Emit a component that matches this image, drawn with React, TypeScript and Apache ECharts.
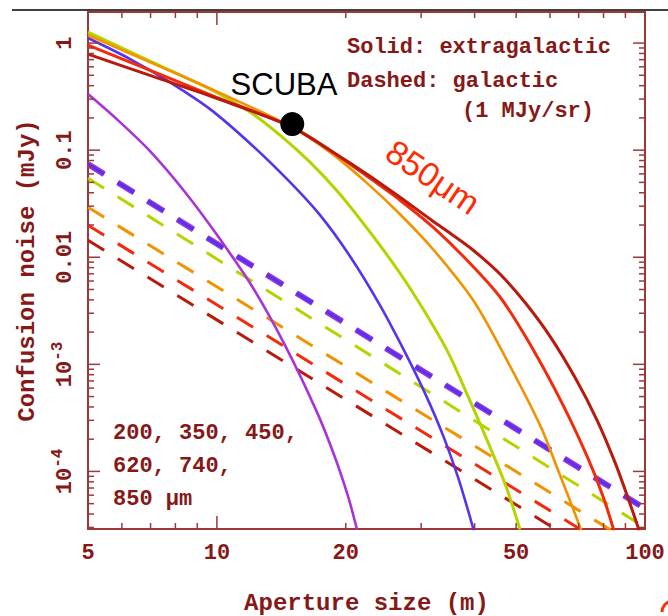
import React, { useEffect, useRef } from 'react';
import * as echarts from 'echarts';

// ---------- axis ticks & labels ----------
const X_LABEL_VALUES = [5, 10, 20, 50, 100];
const Y_LABEL_VALUES = [1e-4, 1e-3, 0.01, 0.1, 1];
const Y_LABEL_TEXTS = ['10^-4', '10^-3', '0.01', '0.1', '1'];

const X_MAJOR_TICKS = [10, 100];
const X_MINOR_TICKS = [6, 7, 8, 9, 20, 30, 40, 50, 60, 70, 80, 90];
const Y_MAJOR_TICKS = [1e-4, 1e-3, 1e-2, 1e-1, 1];
const Y_MINOR_TICKS = [
  3e-5, 4e-5, 5e-5, 6e-5, 7e-5, 8e-5, 9e-5,
  2e-4, 3e-4, 4e-4, 5e-4, 6e-4, 7e-4, 8e-4, 9e-4,
  2e-3, 3e-3, 4e-3, 5e-3, 6e-3, 7e-3, 8e-3, 9e-3,
  0.02, 0.03, 0.04, 0.05, 0.06, 0.07, 0.08, 0.09,
  0.2, 0.3, 0.4, 0.5, 0.6, 0.7, 0.8, 0.9,
];

// ---------- bands ----------
const BANDS = ['200', '350', '450', '620', '740', '850'];
const BAND_COLORS = ['#a934d6', '#5634ee', '#b6d300', '#f39200', '#f42a0c', '#b81a0c'];

// Solid: extragalactic confusion noise [aperture (m), noise (mJy)]
const EXTRAGAL_200 = [[5, 0.334], [5.87, 0.1908], [6.98, 0.0979], [8.43, 0.0405], [10.06, 0.0157], [12.08, 0.005358], [14.42, 0.00151], [17.14, 3.56e-4], [18.88, 1.351e-4], [20.25, 5.84e-5], [21.25, 2.87e-5]];
const EXTRAGAL_350 = [[5, 1.114], [6.27, 0.709], [7.69, 0.4414], [9.64, 0.2416], [12.08, 0.1113], [14.82, 0.0502], [17.42, 0.0247], [20.46, 0.01022], [24.05, 0.003558], [27.51, 0.001295], [30.64, 5.36e-4], [33.75, 2.17e-4], [36.59, 8.79e-5], [38.61, 4.32e-5], [39.87, 2.75e-5]];
const EXTRAGAL_450 = [[5, 1.267], [7.06, 0.6645], [9.95, 0.3483], [11.95, 0.2265], [14.04, 0.1381], [16.5, 0.0772], [19.39, 0.0388], [22.79, 0.01713], [26.78, 0.00709], [30.64, 0.003062], [34.67, 0.001295], [38.61, 5.02e-4], [42.99, 1.866e-4], [47.36, 7.24e-5], [51.05, 2.87e-5]];
const EXTRAGAL_620 = [[5, 1.188], [7.06, 0.65], [9.95, 0.3559], [14.82, 0.1676], [18.37, 0.0958], [22.43, 0.0492], [26.78, 0.02522], [31.98, 0.01188], [39.7, 0.00396], [47.6, 0.00109], [56.9, 2.69e-4], [62.3, 1.09e-4], [67.2, 5.02e-5], [71.27, 2.69e-5]];
const EXTRAGAL_740 = [[5, 0.958], [7.06, 0.5474], [9.95, 0.3129], [14.82, 0.1676], [18.37, 0.1], [22.43, 0.0571], [26.78, 0.0341], [31.98, 0.0191], [38.4, 0.00938], [45.9, 0.004229], [53.9, 0.001538], [64.4, 4.14e-4], [73.6, 1.323e-4], [79.8, 5.84e-5], [84.6, 2.81e-5]];
const EXTRAGAL_850 = [[5, 0.789], [7.06, 0.491], [9.95, 0.3062], [14.82, 0.1676], [18.37, 0.1], [22.43, 0.0597], [26.78, 0.03636], [31.98, 0.0217], [35.6, 0.01605], [39.7, 0.01163], [45.9, 0.00694], [52.4, 0.0038], [60.0, 0.001827], [68.6, 7.56e-4], [77.3, 3.0e-4], [85.1, 1.214e-4], [91.7, 5.36e-5], [96.9, 2.81e-5]];

// Dashed: galactic cirrus confusion noise (1 MJy/sr)
const GALACTIC_200 = [[5, 0.074], [100, 4.5e-5]];
const GALACTIC_350 = [[5, 0.074], [100, 4.5e-5]];
const GALACTIC_450 = [[5, 0.0547], [100, 3.0e-5]];
const GALACTIC_620 = [[5, 0.0293], [100, 1.8e-5]];
const GALACTIC_740 = [[5, 0.0199], [100, 1.22e-5]];
const GALACTIC_850 = [[5, 0.0144], [100, 8.8e-6]];

const SCUBA_POINT = [[15, 0.175]];

const LEGEND_LINES = ['Solid: extragalactic', 'Dashed: galactic', '(1 MJy/sr)'];
const BAND_TEXT_LINES = ['200, 350, 450,', '620, 740,', '850 μm'];

const EXTRAGAL = [EXTRAGAL_200, EXTRAGAL_350, EXTRAGAL_450, EXTRAGAL_620, EXTRAGAL_740, EXTRAGAL_850];
const GALACTIC = [GALACTIC_200, GALACTIC_350, GALACTIC_450, GALACTIC_620, GALACTIC_740, GALACTIC_850];

const AXIS_COLOR = '#9e3838';
const TEXT_COLOR = '#861818';
const MONO = '"Liberation Mono", "DejaVu Sans Mono", monospace';
const SANS = '"Liberation Sans", Arial, sans-serif';

export default function App() {
  const ref = useRef<HTMLDivElement>(null);

  useEffect(() => {
    const chart = echarts.init(ref.current!, null, { renderer: 'svg' });

    const galWidths = [6, 3.4, 3, 3, 3, 3];
    const solidWidths = [2.6, 2.6, 3, 2.6, 3, 3];

    const galSeries = GALACTIC.map((d, i) => ({
      type: 'line',
      name: BANDS[i] + ' galactic',
      data: d,
      showSymbol: false,
      silent: true,
      lineStyle: { color: BAND_COLORS[i], width: galWidths[i], type: [19, 16], cap: 'butt' },
      z: 2,
    }));

    const solidSeries = EXTRAGAL.map((d, i) => ({
      type: 'line',
      name: BANDS[i] + ' extragalactic',
      data: d,
      showSymbol: false,
      silent: true,
      smooth: 0.3,
      lineStyle: { color: BAND_COLORS[i], width: solidWidths[i] },
      z: 3,
    }));

    const tickStyle = { stroke: AXIS_COLOR, lineWidth: 1.5 };

    const option: any = {
      animation: false,
      backgroundColor: '#ffffff',
      grid: {
        left: 88, top: 12, width: 557, height: 517,
        show: true, borderColor: AXIS_COLOR, borderWidth: 2,
        containLabel: false, outerBoundsMode: 'none',
      },
      xAxis: {
        type: 'log', logBase: 10, min: 5, max: 100,
        name: 'Aperture size (m)', nameLocation: 'middle', nameGap: 62,
        nameTextStyle: { fontFamily: MONO, fontWeight: 'bold', fontSize: 24, color: TEXT_COLOR },
        axisLine: { show: false },
        axisTick: { show: false },
        splitLine: { show: false },
        minorTick: { show: false },
        axisLabel: {
          customValues: X_LABEL_VALUES,
          formatter: (v: number) => String(Math.round(v)),
          margin: 13,
          fontFamily: MONO, fontWeight: 'bold', fontSize: 22, color: TEXT_COLOR,
        },
      },
      yAxis: {
        type: 'log', logBase: 10, min: 2.9e-5, max: 1.95,
        name: 'Confusion noise (mJy)', nameLocation: 'middle', nameGap: 49,
        nameTextStyle: { fontFamily: MONO, fontWeight: 'bold', fontSize: 24, color: TEXT_COLOR },
        axisLine: { show: false },
        axisTick: { show: false },
        splitLine: { show: false },
        axisLabel: {
          customValues: Y_LABEL_VALUES,
          rotate: 90,
          margin: 12,
          formatter: (v: number) => {
            const i = Y_LABEL_VALUES.findIndex((t) => Math.abs(Math.log10(t) - Math.log10(v)) < 1e-6);
            if (i < 0) return '';
            const s = Y_LABEL_TEXTS[i];
            if (s.indexOf('^') >= 0) {
              const [b, e] = s.split('^');
              return `{n|${b}}{s|${e}}`;
            }
            return `{n|${s}}`;
          },
          fontFamily: MONO, fontWeight: 'bold', fontSize: 22, color: TEXT_COLOR,
          rich: {
            n: { fontFamily: MONO, fontWeight: 'bold', fontSize: 22, color: TEXT_COLOR, lineHeight: 24, verticalAlign: 'bottom' },
            s: { fontFamily: MONO, fontWeight: 'bold', fontSize: 16, color: TEXT_COLOR, lineHeight: 16, padding: [0, 0, 10, 0], verticalAlign: 'bottom' },
          },
        },
      },
      series: [
        ...galSeries,
        ...solidSeries,
        {
          type: 'scatter',
          name: 'SCUBA',
          data: SCUBA_POINT,
          symbolSize: 24,
          itemStyle: { color: '#000000', opacity: 1 },
          silent: true,
          z: 5,
        },
        {
          type: 'custom',
          name: 'xTicks',
          silent: true,
          z: 6,
          data: [...X_MAJOR_TICKS.map((v) => [v, 1, 1]), ...X_MINOR_TICKS.map((v) => [v, 1, 0])],
          encode: { x: 0, y: 1 },
          renderItem: (params: any, api: any) => {
            const cs = params.coordSys;
            const px = api.coord([api.value(0), 1])[0];
            const len = api.value(2) ? 13 : 6;
            const bottom = cs.y + cs.height;
            return {
              type: 'group',
              children: [
                { type: 'line', shape: { x1: px, y1: bottom, x2: px, y2: bottom - len }, style: tickStyle },
                { type: 'line', shape: { x1: px, y1: cs.y, x2: px, y2: cs.y + len }, style: tickStyle },
              ],
            };
          },
        },
        {
          type: 'custom',
          name: 'yTicks',
          silent: true,
          z: 6,
          data: [...Y_MAJOR_TICKS.map((v) => [5, v, 1]), ...Y_MINOR_TICKS.map((v) => [5, v, 0])],
          encode: { x: 0, y: 1 },
          renderItem: (params: any, api: any) => {
            const cs = params.coordSys;
            const py = api.coord([5, api.value(1)])[1];
            const len = api.value(2) ? 12 : 6;
            const right = cs.x + cs.width;
            return {
              type: 'group',
              children: [
                { type: 'line', shape: { x1: cs.x, y1: py, x2: cs.x + len, y2: py }, style: tickStyle },
                { type: 'line', shape: { x1: right, y1: py, x2: right - len, y2: py }, style: tickStyle },
              ],
            };
          },
        },
      ],
      graphic: [
        { type: 'line', silent: true, shape: { x1: 12, y1: 10, x2: 668, y2: 10 }, style: { stroke: '#000000', lineWidth: 1.5 } },
        {
          type: 'text', x: 284, y: 84, silent: true,
          style: { text: 'SCUBA', fontFamily: SANS, fontSize: 31, fill: '#000000', align: 'center', verticalAlign: 'middle', textAlign: 'center', textVerticalAlign: 'middle' },
        },
        {
          type: 'text', x: 433, y: 177, rotation: -0.593, silent: true,
          style: { text: '850μm', fontFamily: SANS, fontSize: 34, fill: '#ff2a00', align: 'center', verticalAlign: 'middle', textAlign: 'center', textVerticalAlign: 'middle' },
        },
        {
          type: 'arc', silent: true,
          shape: { cx: 673, cy: 612, r: 11, startAngle: Math.PI * 1.0, endAngle: Math.PI * 1.45 },
          style: { stroke: '#ff2a00', lineWidth: 3, fill: 'none' },
        },
        ...LEGEND_LINES.map((t, i) => ({
          type: 'text', silent: true,
          x: i === 2 ? 462 : 347,
          y: [47, 81, 111][i],
          style: { text: t, fontFamily: MONO, fontWeight: 'bold', fontSize: 22, fill: TEXT_COLOR, align: 'left', verticalAlign: 'middle', textAlign: 'left', textVerticalAlign: 'middle' },
        })),
        ...BAND_TEXT_LINES.map((t, i) => ({
          type: 'text', silent: true,
          x: 113,
          y: [433, 466, 499][i],
          style: { text: t, fontFamily: MONO, fontWeight: 'bold', fontSize: 22, fill: TEXT_COLOR, align: 'left', verticalAlign: 'middle', textAlign: 'left', textVerticalAlign: 'middle' },
        })),
      ],
    };

    chart.setOption(option);
    return () => chart.dispose();
  }, []);

  return <div ref={ref} style={{ position: 'absolute', left: 0, top: 0, width: 668, height: 616 }} />;
}
